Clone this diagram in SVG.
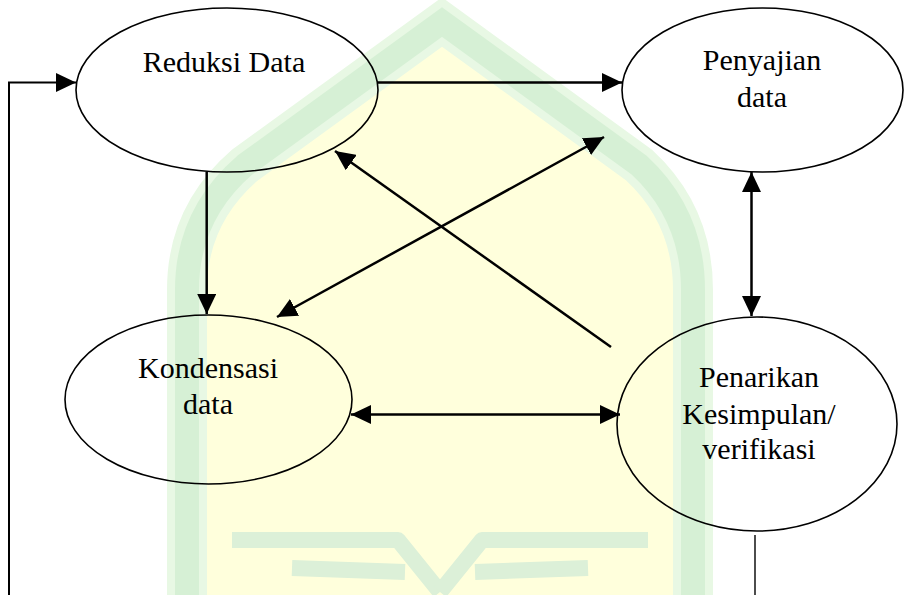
<svg xmlns="http://www.w3.org/2000/svg" width="905" height="595" viewBox="0 0 905 595">
<style>
.node{fill:none;stroke:#000;stroke-width:1.6}
text{font-family:'Liberation Serif','Times New Roman','DejaVu Serif',serif;font-size:30px;fill:#000;text-anchor:middle}
.arr{fill:none;stroke:#000;stroke-width:2.5}
.thin{fill:none;stroke:#000;stroke-width:2}
.wm-out{fill:none;stroke:#e8f8e4;stroke-width:40}
.wm-in{fill:none;stroke:#d6f0d5;stroke-width:24}
.wing{fill:none;stroke:#dcf0d8;stroke-width:16;stroke-linejoin:round}
</style>
<defs>
<marker id="ah" markerUnits="userSpaceOnUse" markerWidth="21" markerHeight="19" refX="20" refY="9.5" orient="auto-start-reverse">
<path d="M0,0 L20,9.5 L0,19 Z" fill="#000"/>
</marker>
</defs>
<rect width="905" height="595" fill="#fff"/>
<g id="watermark">
<path d="M187,595 L187,290 Q187,215 245,165 L442,22 L639,165 Q693,215 693,290 L693,595 Z" fill="#ffffdc"/>
<path class="wm-out" d="M187,600 L187,290 Q187,215 245,165 L442,22 L639,165 Q693,215 693,290 L693,600"/>
<path class="wm-in" d="M187,600 L187,290 Q187,215 245,165 L442,22 L639,165 Q693,215 693,290 L693,600"/>
<path class="wing" d="M232,540 L398,540 L440,592"/>
<path class="wing" d="M648,540 L482,540 L440,592"/>
<path class="wing" d="M292,568 L405,572"/>
<path class="wing" d="M588,568 L475,572"/>
</g>
<g id="connectors">
<polyline class="thin" points="9,595 9,82.5 76,82.5" marker-end="url(#ah)"/>
<line class="arr" x1="378" y1="82.5" x2="622" y2="82.5" marker-end="url(#ah)"/>
<line class="arr" x1="206.7" y1="172" x2="206.7" y2="314" marker-end="url(#ah)"/>
<line class="arr" x1="751.5" y1="172" x2="751.5" y2="316" marker-start="url(#ah)" marker-end="url(#ah)"/>
<line class="arr" x1="277" y1="317" x2="604" y2="137" marker-start="url(#ah)" marker-end="url(#ah)"/>
<line class="arr" x1="611" y1="347" x2="335" y2="151" marker-end="url(#ah)"/>
<line class="arr" x1="351" y1="414.5" x2="620" y2="414.5" marker-start="url(#ah)" marker-end="url(#ah)"/>
<line x1="755" y1="535" x2="755" y2="595" stroke="#000" stroke-width="1.4"/>
</g>
<g id="reduksi">
<ellipse class="node" cx="227" cy="90" rx="151" ry="82"/>
<text x="224" y="72" font-family="Liberation Serif, serif">Reduksi Data</text>
</g>
<g id="penyajian">
<ellipse class="node" cx="762.5" cy="90" rx="140.5" ry="82"/>
<text x="762" y="70" font-family="Liberation Serif, serif">Penyajian</text>
<text x="762" y="107" font-family="Liberation Serif, serif">data</text>
</g>
<g id="kondensasi">
<ellipse class="node" cx="208.5" cy="399.5" rx="143.5" ry="84.5"/>
<text x="208" y="378" font-family="Liberation Serif, serif">Kondensasi</text>
<text x="208" y="414" font-family="Liberation Serif, serif">data</text>
</g>
<g id="penarikan">
<ellipse class="node" cx="757" cy="424" rx="140" ry="107"/>
<text x="759" y="387" font-family="Liberation Serif, serif">Penarikan</text>
<text x="759" y="424" font-family="Liberation Serif, serif">Kesimpulan/</text>
<text x="759" y="459" font-family="Liberation Serif, serif">verifikasi</text>
</g>
</svg>
